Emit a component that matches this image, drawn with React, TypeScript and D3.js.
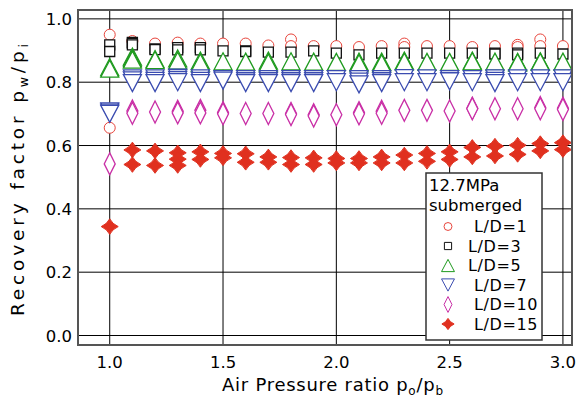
import React from "react";
import * as d3 from "d3";

// air pressure ratio po/pb
const pressureRatio = [1.0, 1.1, 1.2, 1.3, 1.4, 1.5, 1.6, 1.7, 1.8, 1.9, 2.0, 2.1, 2.2, 2.3, 2.4, 2.5, 2.6, 2.7, 2.8, 2.9, 3.0];

// recovery factor pw/pi, repeated runs at each ratio
const ld1 = [[0.950, 0.656], [0.930], [0.922], [0.925], [0.922], [0.922], [0.922], [0.916], [0.935, 0.914], [0.914], [0.914], [0.911], [0.914], [0.922, 0.911], [0.914], [0.914], [0.911], [0.914], [0.918, 0.911], [0.935, 0.914], [0.914]];
const ld3 = [[0.918, 0.897], [0.926, 0.923, 0.918], [0.905, 0.903], [0.909, 0.902], [0.909, 0.902], [0.899], [0.899, 0.897], [0.895], [0.895], [0.899], [0.892], [0.886], [0.892], [0.892], [0.892], [0.892], [0.892], [0.892, 0.889], [0.892, 0.886], [0.892], [0.889]];
const ld5 = [[0.848, 0.843], [0.881, 0.876, 0.871], [0.873, 0.870], [0.875, 0.868], [0.868, 0.862], [0.866], [0.865], [0.868, 0.862], [0.866], [0.865], [0.864], [0.865, 0.860], [0.865, 0.860], [0.868, 0.865], [0.864], [0.864], [0.868, 0.866], [0.865], [0.864, 0.862], [0.866, 0.864], [0.865]];
const ld7 = [[0.708, 0.704, 0.700], [0.812, 0.806, 0.797], [0.812, 0.804, 0.797], [0.814, 0.807, 0.800], [0.812, 0.804, 0.797], [0.810, 0.805], [0.810, 0.803, 0.797], [0.810, 0.803, 0.797], [0.810, 0.803, 0.797], [0.810, 0.803, 0.797], [0.810, 0.800], [0.810, 0.802, 0.793], [0.810, 0.803, 0.797], [0.813, 0.800], [0.812, 0.800], [0.810, 0.803], [0.810, 0.800], [0.812, 0.804, 0.797], [0.812, 0.800], [0.812, 0.800], [0.812, 0.800]];
const ld10 = [[0.542], [0.709, 0.702], [0.706], [0.708, 0.703], [0.711, 0.703], [0.704, 0.700], [0.701], [0.701], [0.701, 0.698], [0.697, 0.693], [0.697], [0.704, 0.700], [0.708, 0.702], [0.711], [0.711], [0.709], [0.718, 0.716], [0.716], [0.716], [0.720, 0.716], [0.718, 0.714]];
const ld15 = [[0.344], [0.586, 0.540], [0.583, 0.537], [0.577, 0.557, 0.537], [0.580, 0.556], [0.575, 0.561], [0.574, 0.547], [0.564, 0.547], [0.562, 0.540], [0.561, 0.540], [0.559, 0.545], [0.559, 0.545], [0.564, 0.545], [0.570, 0.545], [0.575, 0.550], [0.580, 0.556], [0.594, 0.564], [0.598, 0.567], [0.601, 0.572], [0.606, 0.583], [0.609, 0.587]];

const xTicks = [1.0, 1.5, 2.0, 2.5, 3.0];
const yTicks = [0.0, 0.2, 0.4, 0.6, 0.8, 1.0];
const legendTitle = ["12.7MPa", "submerged"];
const legendLabels = ["L/D=1", "L/D=3", "L/D=5", "L/D=7", "L/D=10", "L/D=15"];

const FONT = "'DejaVu Sans', sans-serif";

// marker path for a given kind, scale s
function markerPath(kind: string, s: number) {
  const p = d3.path();
  if (kind === "circle") {
    p.arc(0, 0, 5.5 * s, 0, Math.PI * 2);
  } else if (kind === "square") {
    p.rect(-5 * s, -5 * s, 10 * s, 10 * s);
  } else if (kind === "up") {
    p.moveTo(0, -8.5 * s); p.lineTo(9 * s, 8.5 * s); p.lineTo(-9 * s, 8.5 * s); p.closePath();
  } else if (kind === "down") {
    p.moveTo(0, 8.5 * s); p.lineTo(9 * s, -8.5 * s); p.lineTo(-9 * s, -8.5 * s); p.closePath();
  } else if (kind === "diamond") {
    p.moveTo(0, -11 * s); p.lineTo(5.5 * s, 0); p.lineTo(0, 11 * s); p.lineTo(-5.5 * s, 0); p.closePath();
  } else {
    const w = 8.5 * s, h = 7.8 * s, c = 2.6 * s;
    p.moveTo(0, -h);
    p.quadraticCurveTo(c, -c, w, 0);
    p.quadraticCurveTo(c, c, 0, h);
    p.quadraticCurveTo(-c, c, -w, 0);
    p.quadraticCurveTo(-c, -c, 0, -h);
    p.closePath();
  }
  return p.toString();
}

const series = [
  { data: ld1, kind: "circle", stroke: "#e8453c", fill: "#fff", sw: 1 },
  { data: ld3, kind: "square", stroke: "#111", fill: "#fff", sw: 1.3 },
  { data: ld5, kind: "up", stroke: "#1f9a1f", fill: "#fff", sw: 1.3 },
  { data: ld7, kind: "down", stroke: "#3b4cb0", fill: "#fff", sw: 1.3 },
  { data: ld10, kind: "diamond", stroke: "#c92fa6", fill: "#fff", sw: 1.3 },
  { data: ld15, kind: "star", stroke: "#e0301f", fill: "#e0301f", sw: 1 },
];

export default function App() {
  const width = 582;
  const height = 406;
  const left = 78, right = 572, top = 10, bottom = 345;

  const x = d3.scaleLinear().domain([0.86, 3.04]).range([left, right]);
  const y = d3.scaleLinear().domain([-0.03, 1.028]).range([bottom, top]);

  const legendX = 426, legendY = 173, legendW = 116, legendH = 167;
  const textX = [474, 468, 468, 474, 474, 474];

  return (
    <svg width={width} height={height} style={{ position: "absolute", left: 0, top: 0, background: "#fff" }} fontFamily={FONT}>
      <rect x={0} y={0} width={width} height={height} fill="#fff" />
      {xTicks.map((t) => (
        <line key={"gx" + t} x1={x(t)} x2={x(t)} y1={top} y2={bottom} stroke="#000" strokeWidth={1} />
      ))}
      {yTicks.map((t) => (
        <line key={"gy" + t} x1={left} x2={right} y1={y(t)} y2={y(t)} stroke="#000" strokeWidth={1} />
      ))}

      {series.map((s, si) => (
        <g key={"s" + si}>
          {s.data.map((vals, i) =>
            vals.map((v, j) => (
              <path key={i + "-" + j} d={markerPath(s.kind, 1)} transform={`translate(${x(pressureRatio[i])},${y(v)})`}
                fill={s.fill} stroke={s.stroke} strokeWidth={s.sw} />
            ))
          )}
        </g>
      ))}

      <rect x={left} y={top} width={right - left} height={bottom - top} fill="none" stroke="#555" strokeWidth={2} />

      {xTicks.map((t) => (
        <text key={"tx" + t} x={x(t)} y={368} textAnchor="middle" fontSize={16.5} fill="#000">{t.toFixed(1)}</text>
      ))}
      {yTicks.map((t) => (
        <text key={"ty" + t} x={72} y={y(t) + 6} textAnchor="end" fontSize={16.5} fill="#000">{t.toFixed(1)}</text>
      ))}

      <text x={222} y={391} fontSize={18} fill="#000" textLength={221} lengthAdjust="spacing">
        Air Pressure ratio p<tspan fontSize={12} dy={4}>o</tspan><tspan dy={-4}>/p</tspan><tspan fontSize={12} dy={4}>b</tspan>
      </text>
      <text transform="translate(24,316) rotate(-90)" fontSize={18.5} fill="#000" textLength={272} lengthAdjust="spacing">
        Recovery factor p<tspan fontSize={12.5} dy={4}>w</tspan><tspan dy={-4}>/p</tspan><tspan fontSize={12.5} dy={4}>i</tspan>
      </text>

      <g>
        <rect x={legendX} y={legendY} width={legendW} height={legendH} fill="#fff" stroke="#333" strokeWidth={1.5} />
        {legendTitle.map((t, i) => (
          <text key={t} x={legendX + 3} y={191 + i * 19.5} fontSize={16.5} fill="#000">{t}</text>
        ))}
        {legendLabels.map((lab, i) => {
          const cy = 226.5 + i * 19.5;
          const s = series[i];
          return (
            <g key={lab}>
              <path d={markerPath(s.kind, 0.72)} transform={`translate(448,${cy})`} fill={s.fill} stroke={s.stroke} strokeWidth={1} />
              <text x={textX[i]} y={cy + 5.5} fontSize={16} letterSpacing={0.6} fill="#000">{lab}</text>
            </g>
          );
        })}
      </g>
    </svg>
  );
}
